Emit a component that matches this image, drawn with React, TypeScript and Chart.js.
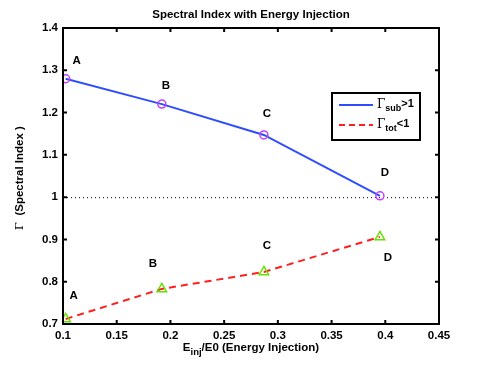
import React, { useEffect, useRef } from "react";
import { Chart, registerables } from "chart.js";

Chart.register(...registerables);

const pointLabels = ["A", "B", "C", "D"];
const subX = [0.1025, 0.192, 0.287, 0.395];
const subY = [1.28, 1.22, 1.147, 1.003];
const totX = [0.1025, 0.192, 0.287, 0.395];
const totY = [0.712, 0.783, 0.823, 0.906];
const subLabelOffsets = [[11, -18], [4, -18], [3, -21], [5, -23]];
const totLabelOffsets = [[8, -23], [-9, -25], [3, -26], [8, 21]];
const xTicks = [0.1, 0.15, 0.2, 0.25, 0.3, 0.35, 0.4, 0.45];
const yTicks = [0.7, 0.8, 0.9, 1, 1.1, 1.2, 1.3, 1.4];

const FONT = "'Liberation Sans', Arial, Helvetica, sans-serif";
const BLUE = "#2f4dff";
const RED = "#ff1f1f";
const MAGENTA = "#c040ff";
const GREEN = "#66e000";

const decorPlugin = {
  id: "decor",
  beforeDatasetsDraw(chart: any) {
    const { ctx, chartArea: a, scales } = chart;
    const y1 = scales.y.getPixelForValue(1);
    ctx.save();
    ctx.strokeStyle = "#000";
    ctx.lineWidth = 1;
    ctx.setLineDash([1, 3]);
    ctx.beginPath();
    ctx.moveTo(a.left, y1 + 0.5);
    ctx.lineTo(a.right, y1 + 0.5);
    ctx.stroke();
    ctx.restore();
  },
  afterDatasetsDraw(chart: any) {
    const { ctx, chartArea: a, scales } = chart;
    const xs = scales.x;
    const ys = scales.y;
    ctx.save();
    ctx.strokeStyle = "#000";
    ctx.lineWidth = 2;
    ctx.strokeRect(a.left, a.top, a.right - a.left, a.bottom - a.top);
    ctx.beginPath();
    xTicks.forEach((t) => {
      const px = xs.getPixelForValue(t);
      ctx.moveTo(px, a.bottom);
      ctx.lineTo(px, a.bottom - 4);
      ctx.moveTo(px, a.top);
      ctx.lineTo(px, a.top + 4);
    });
    yTicks.forEach((t) => {
      const py = ys.getPixelForValue(t);
      ctx.moveTo(a.left, py);
      ctx.lineTo(a.left + 4, py);
      ctx.moveTo(a.right, py);
      ctx.lineTo(a.right - 4, py);
    });
    ctx.stroke();

    ctx.fillStyle = "#000";
    ctx.font = `bold 11.5px ${FONT}`;
    ctx.textAlign = "center";
    ctx.textBaseline = "middle";
    pointLabels.forEach((l, i) => {
      ctx.fillText(l, xs.getPixelForValue(subX[i]) + subLabelOffsets[i][0], ys.getPixelForValue(subY[i]) + subLabelOffsets[i][1]);
      ctx.fillText(l, xs.getPixelForValue(totX[i]) + totLabelOffsets[i][0], ys.getPixelForValue(totY[i]) + totLabelOffsets[i][1]);
    });

    const cx = (a.left + a.right) / 2;
    ctx.font = `bold 11.5px ${FONT}`;
    ctx.fillText("Spectral Index with Energy Injection", cx, 15);

    const drawRich = (parts: { t: string; sub?: boolean }[], x: number, y: number) => {
      const mainF = `bold 11.5px ${FONT}`;
      const subF = `bold 9.5px ${FONT}`;
      let w = 0;
      parts.forEach((p) => {
        ctx.font = p.sub ? subF : mainF;
        w += ctx.measureText(p.t).width;
      });
      let cur = x - w / 2;
      ctx.textAlign = "left";
      parts.forEach((p) => {
        ctx.font = p.sub ? subF : mainF;
        ctx.fillText(p.t, cur, p.sub ? y + 4 : y);
        cur += ctx.measureText(p.t).width;
      });
    };
    drawRich([{ t: "E" }, { t: "inj", sub: true }, { t: "/E0 (Energy Injection)" }], cx, 348);

    ctx.save();
    ctx.translate(20, (a.top + a.bottom) / 2 + 2);
    ctx.rotate(-Math.PI / 2);
    const g = "Γ ";
    ctx.font = `11px 'DejaVu Serif', serif`;
    const gw = ctx.measureText(g).width;
    ctx.font = `bold 11.5px ${FONT}`;
    const rest = " (Spectral Index )";
    const rw = ctx.measureText(rest).width;
    const start = -(gw + rw) / 2;
    ctx.textAlign = "left";
    ctx.font = `11px 'DejaVu Serif', serif`;
    ctx.fillText(g, start, 0);
    ctx.font = `bold 11.5px ${FONT}`;
    ctx.fillText(rest, start + gw, 0);
    ctx.restore();

    const lx = 332, ly = 93, lw = 88, lh = 47;
    ctx.fillStyle = "#fff";
    ctx.fillRect(lx, ly, lw, lh);
    ctx.strokeStyle = "#000";
    ctx.lineWidth = 2;
    ctx.setLineDash([]);
    ctx.strokeRect(lx, ly, lw, lh);
    const rows = [
      { color: BLUE, dash: [] as number[], sub: "sub", tail: ">1", y: ly + 12 },
      { color: RED, dash: [6, 4], sub: "tot", tail: "<1", y: ly + 32 },
    ];
    rows.forEach((r) => {
      ctx.strokeStyle = r.color;
      ctx.lineWidth = 2;
      ctx.setLineDash(r.dash);
      ctx.beginPath();
      ctx.moveTo(lx + 7, r.y);
      ctx.lineTo(lx + 41, r.y);
      ctx.stroke();
      ctx.setLineDash([]);
      ctx.fillStyle = "#000";
      ctx.textAlign = "left";
      ctx.textBaseline = "middle";
      let cur = lx + 45;
      ctx.font = `12px 'DejaVu Serif', serif`;
      ctx.fillText("Γ", cur, r.y);
      cur += ctx.measureText("Γ").width;
      ctx.font = `bold 9px ${FONT}`;
      ctx.fillText(r.sub, cur, r.y + 4);
      cur += ctx.measureText(r.sub).width;
      ctx.font = `bold 11px ${FONT}`;
      ctx.fillText(r.tail, cur, r.y - 1);
    });
    ctx.restore();
  },
};

export default function App() {
  const ref = useRef<HTMLCanvasElement>(null);
  useEffect(() => {
    if (!ref.current) return;
    const chart = new Chart(ref.current, {
      type: "scatter",
      data: {
        datasets: [
          {
            data: subX.map((x, i) => ({ x, y: subY[i] })),
            showLine: true,
            borderColor: BLUE,
            borderWidth: 2,
            pointRadius: 0,
            order: 3,
          },
          {
            data: totX.map((x, i) => ({ x, y: totY[i] })),
            showLine: true,
            borderColor: RED,
            borderWidth: 2,
            borderDash: [7, 5],
            pointRadius: 0,
            order: 3,
          },
          {
            data: subX.map((x, i) => ({ x, y: subY[i] })),
            showLine: false,
            pointStyle: "circle",
            pointRadius: 4,
            pointBorderWidth: 1.5,
            pointBorderColor: MAGENTA,
            pointBackgroundColor: "rgba(0,0,0,0)",
            order: 1,
          },
          {
            data: totX.map((x, i) => ({ x, y: totY[i] })),
            showLine: false,
            pointStyle: "triangle",
            pointRadius: 5.5,
            pointBorderWidth: 1.5,
            pointBorderColor: GREEN,
            pointBackgroundColor: "rgba(0,0,0,0)",
            order: 1,
          },
        ],
      },
      options: {
        responsive: false,
        animation: false,
        layout: { padding: { top: 28, right: 46, left: 0, bottom: 0 } },
        plugins: { legend: { display: false }, tooltip: { enabled: false } },
        scales: {
          x: {
            type: "linear",
            min: 0.1,
            max: 0.45,
            afterBuildTicks: (s: any) => {
              s.ticks = xTicks.map((v) => ({ value: v }));
            },
            afterFit: (s: any) => {
              s.height = 41;
            },
            grid: { display: false, drawTicks: false },
            border: { display: false },
            ticks: {
              color: "#000",
              padding: 5,
              font: { family: FONT, size: 11.5, weight: "bold" },
              callback: (v: any) => String(Number(Number(v).toFixed(2))),
            },
          },
          y: {
            type: "linear",
            min: 0.7,
            max: 1.4,
            afterBuildTicks: (s: any) => {
              s.ticks = yTicks.map((v) => ({ value: v }));
            },
            afterFit: (s: any) => {
              s.width = 63;
            },
            grid: { display: false, drawTicks: false },
            border: { display: false },
            ticks: {
              color: "#000",
              padding: 5,
              font: { family: FONT, size: 11.5, weight: "bold" },
              callback: (v: any) => String(Number(Number(v).toFixed(2))),
            },
          },
        },
      },
      plugins: [decorPlugin],
    } as any);
    return () => chart.destroy();
  }, []);
  return (
    <div style={{ position: "fixed", left: 0, top: 0, width: 485, height: 365, background: "#fff" }}>
      <canvas ref={ref} width={485} height={365} style={{ width: 485, height: 365 }} />
    </div>
  );
}
